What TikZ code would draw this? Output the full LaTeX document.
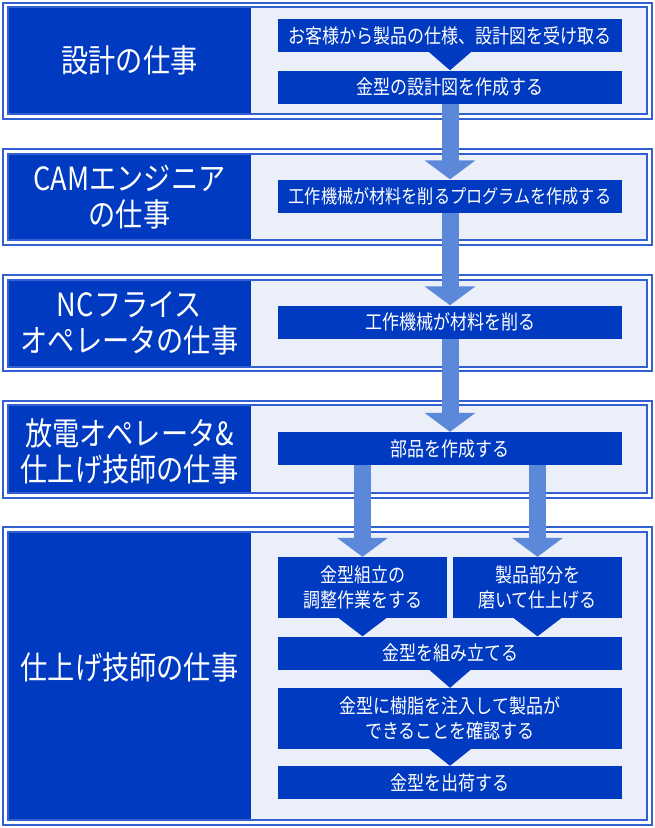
\documentclass[tikz,border=0pt]{standalone}
\usepackage{fontspec}
\setmainfont{Noto Sans CJK JP}[FakeStretch=0.85]
\usepackage{xcolor}
\usetikzlibrary{arrows.meta, positioning, calc}
\definecolor{jobblue}{RGB}{0, 58, 192}
\definecolor{panelfill}{RGB}{235, 239, 250}
\definecolor{panelline}{RGB}{50, 95, 210}
\definecolor{flowarrow}{RGB}{92, 136, 218}

\begin{document}
\begin{tikzpicture}[x=1pt, y=-1pt,
    taskbox/.style={fill=jobblue, text=white, minimum width=344pt,
      minimum height=33pt, inner sep=0pt, align=center,
      font=\fontsize{20}{25}\selectfont},
    halfbox/.style={taskbox, minimum width=169pt, minimum height=61pt},
    jobtitle/.style={text=white, align=center,
      font=\fontsize{32}{36}\selectfont},
    frame/.style={panelline, line width=1.5pt},
    flow/.style={flowarrow, line width=17pt,
      -{Triangle[width=50pt, length=19pt]}}]
  \useasboundingbox (0,0) rectangle (655,828);

  % Panels
  \draw[frame] (3,3) rectangle (652,119);
  \fill[panelfill] (8,7) rectangle (647,114);
  \fill[jobblue] (8,7) rectangle (251,114);
  \draw[frame] (8,7) rectangle (647,114);

  \draw[frame] (3,149) rectangle (652,245);
  \fill[panelfill] (8,154) rectangle (647,240);
  \fill[jobblue] (8,154) rectangle (251,240);
  \draw[frame] (8,154) rectangle (647,240);

  \draw[frame] (3,275) rectangle (652,371);
  \fill[panelfill] (8,280) rectangle (647,367);
  \fill[jobblue] (8,280) rectangle (251,367);
  \draw[frame] (8,280) rectangle (647,367);

  \draw[frame] (3,401) rectangle (652,498);
  \fill[panelfill] (8,405) rectangle (647,493);
  \fill[jobblue] (8,405) rectangle (251,493);
  \draw[frame] (8,405) rectangle (647,493);

  \draw[frame] (3,527) rectangle (652,825);
  \fill[panelfill] (8,532) rectangle (647,820);
  \fill[jobblue] (8,532) rectangle (251,820);
  \draw[frame] (8,532) rectangle (647,820);

  % Job titles
  \node[jobtitle] (design) at (129.5, 60) {設計の仕事};
  \node[jobtitle] (cam) at (129.5, 197) {CAMエンジニア\\の仕事};
  \node[jobtitle] (nc) at (129.5, 323.5) {NCフライス\\オペレータの仕事};
  \node[jobtitle] (edm) at (129.5, 451) {放電オペレータ\&\\仕上げ技師の仕事};
  \node[jobtitle] (finish) at (129.5, 667) {仕上げ技師の仕事};

  % Tasks
  \node[taskbox] (receive) at (450, 35.5) {お客様から製品の仕様、設計図を受け取る};
  \node[taskbox] (drawing) at (450, 87) {金型の設計図を作成する};
  \node[taskbox, font=\fontsize{19}{24}\selectfont] (program) at (450, 196)
    {工作機械が材料を削るプログラムを作成する};
  \node[taskbox] (cutting) at (450, 322) {工作機械が材料を削る};
  \node[taskbox] (parts) at (450, 448.5) {部品を作成する};
  \node[halfbox] (adjust) at (362.5, 587.5) {金型組立の\\調整作業をする};
  \node[halfbox] (polish) at (537.5, 587.5) {製品部分を\\磨いて仕上げる};
  \node[taskbox] (assemble) at (450, 653) {金型を組み立てる};
  \node[taskbox, minimum height=61pt] (resin) at (450, 718.5)
    {金型に樹脂を注入して製品が\\できることを確認する};
  \node[taskbox] (ship) at (450, 782.5) {金型を出荷する};

  % Chevrons inside a panel
  \fill[jobblue] ($(receive.south)+(-22,-1)$) -- (drawing.north)
    -- ($(receive.south)+(22,-1)$) -- cycle;
  \fill[jobblue] ($(adjust.south)+(-25,-1)$) -- (adjust.south |- assemble.north)
    -- ($(adjust.south)+(25,-1)$) -- cycle;
  \fill[jobblue] ($(polish.south)+(-25,-1)$) -- (polish.south |- assemble.north)
    -- ($(polish.south)+(25,-1)$) -- cycle;
  \fill[jobblue] ($(assemble.south)+(-22,-1)$) -- (resin.north)
    -- ($(assemble.south)+(22,-1)$) -- cycle;
  \fill[jobblue] ($(resin.south)+(-22,-1)$) -- (ship.north)
    -- ($(resin.south)+(22,-1)$) -- cycle;

  % Arrows between panels
  \draw[flow] (drawing.south) -- (program.north);
  \draw[flow] (program.south) -- (cutting.north);
  \draw[flow] (cutting.south) -- (parts.north);
  \draw[flow] (parts.south -| adjust.north) -- (adjust.north);
  \draw[flow] (parts.south -| polish.north) -- (polish.north);
\end{tikzpicture}
\end{document}
